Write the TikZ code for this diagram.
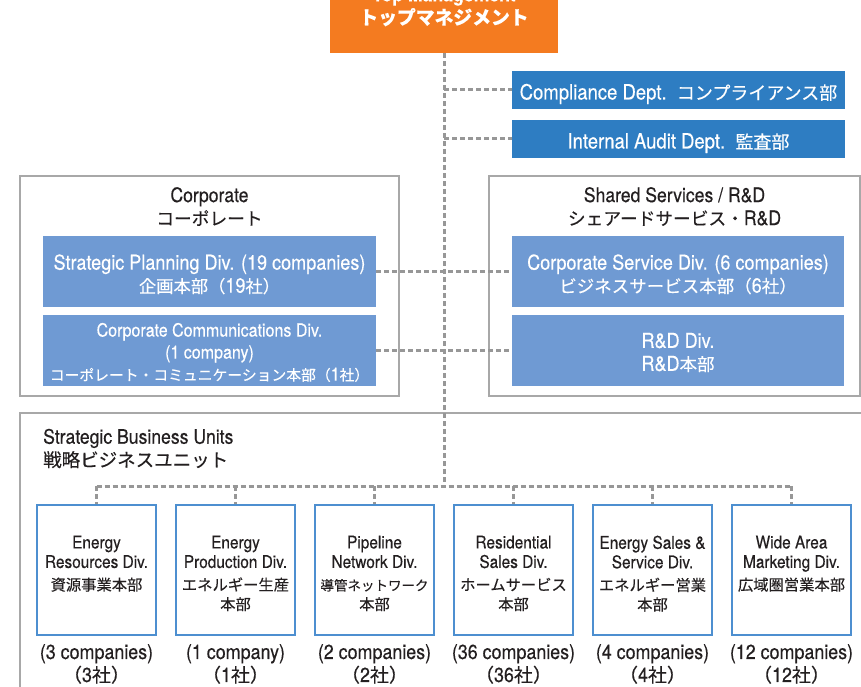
\documentclass[tikz,border=0pt]{standalone}
\usepackage{fontspec}
\setmainfont{TeX Gyre Heros}[FakeStretch=0.88,FakeBold=0.3]
\newfontfamily\jp{Noto Sans CJK JP}[FakeBold=0.25]
\newcommand\FS[2]{\fontsize{#1}{#2}\selectfont}
\newcommand\JP[2]{{\fontsize{#1}{#1}\selectfont\jp #2}}
\newcommand\RU[1]{\rule{0pt}{#1}}
\definecolor{orangeone}{HTML}{F47B20}
\definecolor{compblue}{HTML}{2E7DC2}
\definecolor{divblue}{HTML}{6F9AD3}
\definecolor{boxgray}{HTML}{A8A8A8}
\definecolor{dotgray}{HTML}{979797}
\definecolor{sbublue}{HTML}{4D8FD0}
\definecolor{textdark}{HTML}{231F20}
\begin{document}
\begin{tikzpicture}[x=1pt,y=-1pt,
  dotl/.style={draw=dotgray,line width=3pt,dash pattern=on 5pt off 3pt},
  deptbox/.style={fill=compblue,text=white,minimum width=333pt,minimum height=38pt,inner sep=0pt,text height=19pt,text depth=0pt,font=\FS{21}{23}},
  divbox/.style={fill=divblue,text=white,minimum width=333pt,minimum height=71pt,inner sep=0pt,align=center,font=\FS{20.5}{23}},
  grpbox/.style={draw=boxgray,line width=1.4pt,inner sep=0pt},
  grptitle/.style={text=textdark,align=center,inner sep=0pt,font=\FS{20}{23}},
  unitbox/.style={draw=sbublue,line width=1.3pt,fill=white,minimum width=119pt,minimum height=130pt,inner sep=0pt},
  unittext/.style={text=textdark,align=center,inner sep=0pt,anchor=north,font=\FS{17.5}{19.5}},
  counttext/.style={text=textdark,align=center,inner sep=0pt,font=\FS{20.3}{23}},
]
\useasboundingbox (0,0) rectangle (861,687);
\fill[white] (0,0) rectangle (861,687);

% group frames
\node[grpbox,minimum width=379pt,minimum height=220pt] (corp) at (209.5,286) {};
\node[grpbox,minimum width=371pt,minimum height=220pt] (shr) at (674.5,286) {};
\node[grpbox,minimum width=855pt,minimum height=297pt] (sbu) at (447.5,561.5) {};

\node[grptitle] (corpt) at (209.5,206.5) {Corporate\\\JP{17.7}{コーポレート}};
\node[grptitle] (shrt) at (674.5,206.5) {Shared Services / R\&D\\\JP{17.7}{シェアードサービス・}R\&D};
\node[grptitle,align=left,anchor=west] (sbut) at (43,448.5) {Strategic Business Units\\\JP{18.5}{戦略ビジネスユニット}};

% top management
\node[fill=orangeone,minimum width=228pt,minimum height=93pt,inner sep=0pt,text=white,align=center,font=\bfseries\FS{20}{23}] (top) at (444,6.5) {Top Management\\\JP{18.8}{トップマネジメント}};

% departments
\node[deptbox] (comp) at (678.5,90) {Compliance Dept.\ \ \JP{18}{コンプライアンス部}};
\node[deptbox] (aud) at (678.5,139) {Internal Audit Dept.\ \ \JP{18}{監査部}};

% divisions
\node[divbox] (stp) at (209.5,271.5) {\RU{21pt}Strategic Planning Div. (19 companies)\\\JP{17.3}{企画本部（}19\JP{17.3}{社）}};
\node[divbox,font=\FS{18.2}{22}] (ccd) at (209.5,350.5) {\RU{17.5pt}Corporate Communications Div.\\(1 company)\\\JP{14.8}{コーポレート・コミュニケーション本部（}1\JP{14.8}{社）}};
\node[divbox,minimum width=332pt] (csd) at (678,271.5) {\RU{21pt}Corporate Service Div. (6 companies)\\\JP{17.5}{ビジネスサービス本部（}6\JP{17.5}{社）}};
\node[divbox,minimum width=332pt] (rnd) at (678,350.5) {\RU{19pt}R\&D Div.\\R\&D\JP{17.5}{本部}};

% business units
\node[unitbox] (u1) at (96.5,570) {};
\node[unitbox] (u2) at (235.5,570) {};
\node[unitbox] (u3) at (374.5,570) {};
\node[unitbox] (u4) at (513.5,570) {};
\node[unitbox] (u5) at (652.5,570) {};
\node[unitbox] (u6) at (791.5,570) {};

\node[unittext] (t1) at (96.5,535.5) {Energy\\Resources Div.\\[3pt]\JP{15.3}{資源事業本部}};
\node[unittext] (t2) at (235.5,535.5) {Energy\\Production Div.\\[3pt]\JP{15.3}{エネルギー生産}\\\JP{15.3}{本部}};
\node[unittext] (t3) at (374.5,535.5) {Pipeline\\Network Div.\\[3pt]\JP{13.5}{導管ネットワーク}\\\JP{15.3}{本部}};
\node[unittext] (t4) at (513.5,535.5) {Residential\\Sales Div.\\[3pt]\JP{15.3}{ホームサービス}\\\JP{15.3}{本部}};
\node[unittext] (t5) at (652.5,535.5) {Energy Sales \&\\Service Div.\\[3pt]\JP{15.3}{エネルギー営業}\\\JP{15.3}{本部}};
\node[unittext] (t6) at (791.5,535.5) {Wide Area\\Marketing Div.\\[3pt]\JP{15.3}{広域圏営業本部}};

\node[counttext] (c1) at (96.5,664) {(3 companies)\\\JP{19}{（}3\JP{19}{社）}};
\node[counttext] (c2) at (235.5,664) {(1 company)\\\JP{19}{（}1\JP{19}{社）}};
\node[counttext] (c3) at (374.5,664) {(2 companies)\\\JP{19}{（}2\JP{19}{社）}};
\node[counttext] (c4) at (513.5,664) {(36 companies)\\\JP{19}{（}36\JP{19}{社）}};
\node[counttext] (c5) at (652.5,664) {(4 companies)\\\JP{19}{（}4\JP{19}{社）}};
\node[counttext] (c6) at (791.5,664) {(12 companies)\\\JP{19}{（}12\JP{19}{社）}};

% connectors
\coordinate (hub) at (444,486);
\draw[dotl] (top.south) -- (hub);
\draw[dotl] (top.south |- comp.west) -- (comp.west);
\draw[dotl] (top.south |- aud.west) -- (aud.west);
\draw[dotl] (stp.east) -- (csd.west);
\draw[dotl] (ccd.east) -- (rnd.west);
\draw[dotl] (u1.north |- hub) -- (u6.north |- hub);
\foreach \i in {1,...,6} \draw[dotl] (u\i.north |- hub) -- (u\i.north);
\end{tikzpicture}
\end{document}
